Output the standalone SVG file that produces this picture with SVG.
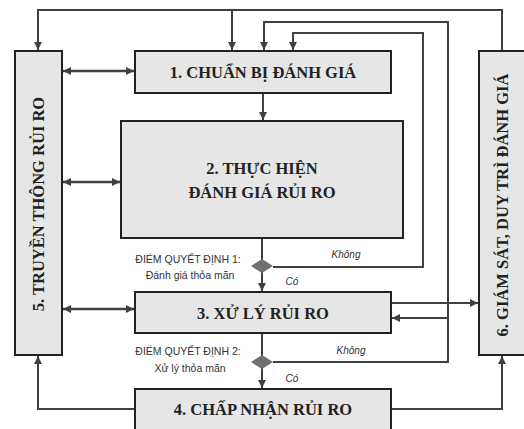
<svg xmlns="http://www.w3.org/2000/svg" width="524" height="429" viewBox="0 0 524 429">
<defs>
<marker id="ah" markerWidth="8" markerHeight="8" viewBox="0 0 10 10" refX="10" refY="5" orient="auto-start-reverse" markerUnits="userSpaceOnUse">
<path d="M0,0 L10,5 L0,10 z" fill="#404040"/>
</marker>
<style>
.box{fill:#e6e6e6;stroke:#222;stroke-width:2}
.t{font-family:"Liberation Serif","Times New Roman",serif;font-weight:bold;font-size:16.5px;fill:#222;text-anchor:middle}
.s{font-family:"Liberation Sans",Arial,sans-serif;font-size:10.5px;fill:#333;text-anchor:middle}
.i{font-family:"Liberation Sans",Arial,sans-serif;font-size:10px;fill:#333;font-style:italic;text-anchor:middle}
.c{fill:none;stroke:#404040;stroke-width:2}
.d{fill:none;stroke:#404040;stroke-width:2.5}
</style>
</defs>
<rect width="524" height="429" fill="#fff"/>
<g id="connectors">
<path class="c" d="M502,51 V10 H38 V50" marker-end="url(#ah)"/>
<path class="c" d="M232,10 V50" marker-end="url(#ah)"/>
<path class="c" d="M263,93 V120" marker-end="url(#ah)"/>
<path class="c" d="M262,238 V291" marker-end="url(#ah)"/>
<path class="c" d="M262,333 V388" marker-end="url(#ah)"/>
<path class="c" d="M273,267 H423 V33 H293 V50" marker-end="url(#ah)"/>
<path class="c" d="M273,362 H448 V22 H264 V50" marker-end="url(#ah)"/>
<path class="c" d="M448,318 H392" marker-end="url(#ah)"/>
<path class="c" d="M391,303 H478" marker-end="url(#ah)"/>
<path class="c" d="M391,409 H502 V356" marker-end="url(#ah)"/>
<path class="c" d="M135,409 H38 V356" marker-end="url(#ah)"/>
<path class="d" d="M63,71 H134" marker-start="url(#ah)" marker-end="url(#ah)"/>
<path class="d" d="M63,182 H120" marker-start="url(#ah)" marker-end="url(#ah)"/>
<path class="d" d="M63,309 H134" marker-start="url(#ah)" marker-end="url(#ah)"/>
</g>
<g id="node1"><rect class="box" x="135" y="51" width="256" height="42"/><text class="t" x="263" y="78">1. CHUẨN BỊ ĐÁNH GIÁ</text></g>
<g id="node2"><rect class="box" x="121" y="121" width="282" height="117"/><text class="t" x="262" y="174">2. THỰC HIỆN</text><text class="t" x="262" y="198">ĐÁNH GIÁ RỦI RO</text></g>
<g id="node3"><rect class="box" x="135" y="292" width="256" height="41"/><text class="t" x="263" y="319">3. XỬ LÝ RỦI RO</text></g>
<g id="node4"><rect class="box" x="135" y="389" width="256" height="45"/><text class="t" x="263" y="415">4. CHẤP NHẬN RỦI RO</text></g>
<g id="node5"><rect class="box" x="15" y="51" width="47" height="304"/><text class="t" transform="translate(44,204) rotate(-90)" x="0" y="0">5. TRUYỀN THÔNG RỦI RO</text></g>
<g id="node6"><rect class="box" x="479" y="51" width="50" height="304"/><text class="t" transform="translate(508,205) rotate(-90)" x="0" y="0">6. GIÁM SÁT, DUY TRÌ ĐÁNH GIÁ</text></g>
<g id="decision1"><path d="M251,266 L262,259 L273,266 L262,273 z" fill="#707070"/><text class="s" x="188" y="263">ĐIỂM QUYẾT ĐỊNH 1:</text><text class="s" x="190" y="279">Đánh giá thỏa mãn</text><text class="i" x="346" y="258">Không</text><text class="i" x="292" y="285">Có</text></g>
<g id="decision2"><path d="M251,362 L262,355 L273,362 L262,369 z" fill="#707070"/><text class="s" x="188" y="355">ĐIỂM QUYẾT ĐỊNH 2:</text><text class="s" x="190" y="372">Xử lý thỏa mãn</text><text class="i" x="351" y="354">Không</text><text class="i" x="292" y="382">Có</text></g>
</svg>
